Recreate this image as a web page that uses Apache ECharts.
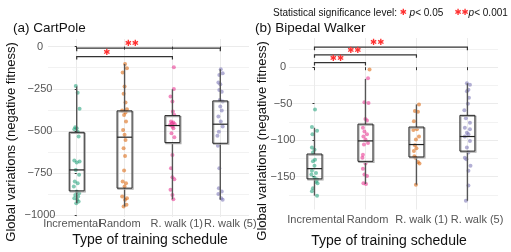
<!DOCTYPE html>
<html>
<head>
<meta charset="utf-8">
<script src="https://cdn.jsdelivr.net/npm/echarts@6/dist/echarts.min.js"></script>
<style>
html,body{margin:0;padding:0;background:#fff;}
#chart{width:511px;height:252px;}
</style>
</head>
<body>
<div id="chart"></div>
<script>
// schedules, same order in both panels
var categories = ['Incremental', 'Random', 'R. walk (1)', 'R. walk (5)'];
var cartTicks = [0, -250, -500, -750, -1000];
var cartMinor = [-125, -375, -625, -875];
var walkerTicks = [0, -50, -100, -150];
var walkerMinor = [25, -25, -75, -125, -175];

// jittered points: [x offset in category units, value]
var cartIncremental = [[-0.02,-233],[0.02,-273],[0.06,-369],[-0.03,-478],[0.0,-484],[-0.05,-490],[0.02,-504],[0.04,-533],
  [-0.05,-675],[0.06,-681],[0.0,-687],[-0.02,-731],[0.05,-760],[-0.04,-800],[0.02,-810],[-0.06,-829],
  [0.0,-859],[0.05,-869],[-0.03,-879],[0.03,-889],[-0.05,-899],[0.01,-908],[0.04,-918],[-0.01,-928]];
var cartRandom = [[0.01,-103],[0.05,-128],[-0.04,-154],[0.0,-237],[-0.02,-280],[0.02,-332],[0.05,-371],[-0.05,-379],
  [0.02,-391],[-0.01,-405],[0.03,-444],[-0.03,-494],[0.0,-523],[0.02,-553],[-0.02,-602],[0.01,-648],[-0.01,-735],
  [-0.04,-800],[0.03,-810],[0.0,-829],[-0.05,-889],[0.05,-899],[0.01,-908],[0.04,-938],[-0.02,-948]];
var cartWalk1 = [[0.03,-122],[0.03,-251],[-0.04,-296],[0.0,-326],[0.01,-385],[0.04,-405],[-0.03,-444],[0.02,-450],
  [-0.01,-455],[0.05,-460],[-0.05,-464],[0.0,-474],[0.02,-484],[-0.02,-513],[0.04,-537],[0.0,-642],[-0.03,-721],
  [0.0,-774],[0.04,-786],[-0.04,-849],[0.0,-879],[0.02,-905]];
var cartWalk5 = [[0.01,-134],[0.05,-158],[-0.02,-168],[-0.04,-213],[0.0,-223],[-0.02,-257],[0.03,-267],[-0.01,-316],
  [0.05,-326],[0.0,-355],[0.03,-379],[-0.04,-415],[0.01,-444],[0.05,-474],[-0.03,-504],[-0.06,-529],[-0.05,-588],
  [-0.02,-721],[-0.03,-839],[0.03,-859],[-0.04,-873],[0.02,-899],[0.05,-908]];

var walkerIncremental = [[0.01,-58],[-0.05,-82],[0.05,-87],[-0.04,-92],[-0.05,-110],[0.0,-113],[-0.03,-117],[0.01,-127],
  [-0.03,-129],[0.0,-135],[-0.05,-142],[0.03,-145],[-0.06,-147],[0.0,-151],[0.05,-154],[0.03,-157],[0.06,-159],
  [-0.03,-166],[-0.05,-170],[0.05,-176]];
var walkerRandom = [[0.05,-15],[-0.02,-48],[0.06,-49],[0.0,-71],[0.03,-73],[-0.05,-83],[-0.02,-88],[0.03,-92],
  [-0.04,-95],[0.0,-99],[0.05,-104],[-0.03,-106],[-0.05,-120],[-0.06,-124],[0.0,-132],[-0.05,-139],[-0.02,-147],
  [0.03,-149],[-0.04,-159],[0.01,-160]];
var walkerRandomOdd = [[0.08,-3]];
var walkerWalk1 = [[0.05,-51],[-0.03,-60],[0.03,-61],[-0.05,-74],[0.01,-85],[-0.06,-86],[0.05,-95],[-0.01,-99],
  [-0.03,-107],[0.0,-111],[-0.05,-115],[-0.04,-122],[-0.02,-124],[0.03,-130],[0.06,-132],[-0.01,-161]];
var walkerWalk5 = [[-0.01,-22],[0.05,-24],[0.02,-31],[-0.01,-33],[0.03,-42],[0.01,-50],[-0.06,-59],[-0.03,-70],
  [0.05,-76],[-0.05,-83],[0.05,-85],[-0.01,-90],[0.02,-92],[-0.05,-95],[0.05,-101],[-0.01,-110],[0.02,-117],
  [-0.05,-124],[-0.02,-126],[0.06,-135],[0.02,-142],[0.02,-162],[-0.03,-183]];

// box stats: [category, min, q1, median, q3, max]
var cartBoxes = [[0,-928,-855,-731,-508,-237],[1,-948,-839,-537,-381,-103],[2,-905,-569,-468,-409,-253],[3,-908,-573,-460,-322,-134]];
var walkerBoxes = [[0,-176,-153,-139,-119,-83],[1,-160,-129,-101,-78,-16],[2,-161,-123,-106,-82,-51],[3,-183,-115,-95,-66,-22]];

// significance brackets: [from, to, value, star position, stars]
var cartSig = [[0,3,-9.5,1.15,'\u2731\u2731'],[0,2,-59,0.63,'\u2731']];
var walkerSig = [[0,3,27.4,1.23,'\u2731\u2731'],[0,2,16.9,0.78,'\u2731\u2731'],[0,1,6.3,0.44,'\u2731\u2731']];

var cartColors = ['#1B9E77','#D95F02','#E7298A','#7570B3'];
var walkerColors = ['#1B9E77','#E7298A','#D95F02','#7570B3'];

// where the category names sit under each panel (in category units, they drift a bit)
var cartLabelAt = [-0.1, 0.9, 2.09, 3.21];
var walkerLabelAt = [0.03, 1.04, 2.1, 3.19];

var FONT = '"Liberation Sans", Arial, sans-serif';
var CART_MIN = -1010, CART_MAX = 45;
var WALK_MIN = -195, WALK_MAX = 40;

function minusFmt(v) {
  v = Math.round(v);
  return v < 0 ? '\u2212' + Math.abs(v) : String(v);
}

function renderBox(params, api) {
  var x = api.value(0);
  var lo = api.coord([x, api.value(1)]);
  var q1 = api.coord([x, api.value(2)]);
  var med = api.coord([x, api.value(3)]);
  var q3 = api.coord([x, api.value(4)]);
  var hi = api.coord([x, api.value(5)]);
  var hw = 7.5;
  return {type: 'group', children: [
    {type: 'line', shape: {x1: hi[0], y1: hi[1], x2: q3[0], y2: q3[1]}, style: {stroke: '#555', lineWidth: 1.4}},
    {type: 'line', shape: {x1: q1[0], y1: q1[1], x2: lo[0], y2: lo[1]}, style: {stroke: '#555', lineWidth: 1.4}},
    {type: 'rect', shape: {x: q3[0] - hw + 1, y: q3[1] + 1, width: hw * 2, height: q1[1] - q3[1]}, style: {fill: null, stroke: '#aaa', lineWidth: 1.2}},
    {type: 'rect', shape: {x: q3[0] - hw, y: q3[1], width: hw * 2, height: q1[1] - q3[1]}, style: {fill: null, stroke: '#222', lineWidth: 1}},
    {type: 'line', shape: {x1: med[0] - hw, y1: med[1], x2: med[0] + hw, y2: med[1]}, style: {stroke: '#222', lineWidth: 1.2}}
  ]};
}

function sigRenderer(list) {
  return function(params, api) {
    var s = list[params.dataIndex];
    var a = api.coord([s[0], s[2]]);
    var b = api.coord([s[1], s[2]]);
    var t = api.coord([s[3], s[2]]);
    return {type: 'group', children: [
      {type: 'polyline', shape: {points: [[a[0], a[1] + 3], [a[0], a[1]], [b[0], b[1]], [b[0], b[1] + 3]]},
        style: {stroke: '#333', lineWidth: 1.2, fill: null}},
      {type: 'text', x: t[0], y: t[1] - 4, style: {text: s[4], fill: '#FF3030', fontSize: 8.5,
        fontFamily: '"DejaVu Sans"', align: 'center', verticalAlign: 'middle'}}
    ]};
  };
}

// category names under the panel, placed through the x scale
function labelRenderer(margin) {
  return function(params, api) {
    var p = api.coord([api.value(0), api.value(1)]);
    return {type: 'text', x: p[0], y: p[1] + margin, style: {text: categories[params.dataIndex], fill: '#555',
      fontSize: 11, fontFamily: FONT, align: 'center', verticalAlign: 'top'}};
  };
}

function xAxisFor(idx, min, max) {
  return {
    type: 'value', gridIndex: idx, min: min, max: max,
    axisLine: {show: false},
    axisTick: {show: true, length: 3, lineStyle: {color: '#333'}, customValues: [0, 1, 2, 3]},
    axisLabel: {show: false, customValues: [0, 1, 2, 3]},
    splitLine: {show: true, lineStyle: {color: '#EBEBEB', width: 1}}
  };
}

function yAxisFor(idx, min, max, ticks, margin) {
  return {
    type: 'value', gridIndex: idx, min: min, max: max,
    axisLine: {show: false},
    axisTick: {show: true, length: 2, lineStyle: {color: '#333'}, customValues: ticks},
    axisLabel: {customValues: ticks, margin: margin, align: 'center', color: '#555', fontSize: 11, fontFamily: FONT,
      showMinLabel: true, showMaxLabel: true, formatter: minusFmt},
    splitLine: {show: true, lineStyle: {color: '#EBEBEB', width: 1}}
  };
}

function minorAxisFor(idx, min, max, ticks) {
  return {
    type: 'value', gridIndex: idx, min: min, max: max, position: 'left',
    axisLine: {show: false},
    axisTick: {show: false, customValues: ticks},
    axisLabel: {show: false, customValues: ticks},
    splitLine: {show: true, lineStyle: {color: '#F2F2F2', width: 1}}
  };
}

function pointSeries(pts, cat, color, xi, yi) {
  return {
    type: 'scatter', xAxisIndex: xi, yAxisIndex: yi, symbolSize: 4, z: 3,
    itemStyle: {color: color, opacity: 0.55},
    data: pts.map(function(p) { return [cat + p[0], p[1]]; })
  };
}

var chart = echarts.init(document.getElementById('chart'), null, {renderer: 'canvas'});

var series = [];
series.push({type: 'custom', xAxisIndex: 0, yAxisIndex: 0, z: 4, renderItem: renderBox, data: cartBoxes, encode: {x: 0, y: [1, 2, 3, 4, 5]}});
series.push({type: 'custom', xAxisIndex: 1, yAxisIndex: 2, z: 4, renderItem: renderBox, data: walkerBoxes, encode: {x: 0, y: [1, 2, 3, 4, 5]}});
[cartIncremental, cartRandom, cartWalk1, cartWalk5].forEach(function(pts, i) {
  series.push(pointSeries(pts, i, cartColors[i], 0, 0));
});
[walkerIncremental, walkerRandom, walkerWalk1, walkerWalk5].forEach(function(pts, i) {
  series.push(pointSeries(pts, i, walkerColors[i], 1, 2));
});
series.push(pointSeries(walkerRandomOdd, 1, walkerColors[2], 1, 2));
series.push({type: 'custom', xAxisIndex: 0, yAxisIndex: 0, z: 5, clip: false, renderItem: sigRenderer(cartSig),
  data: cartSig.map(function(s) { return [s[0], s[2]]; })});
series.push({type: 'custom', xAxisIndex: 1, yAxisIndex: 2, z: 5, clip: false, renderItem: sigRenderer(walkerSig),
  data: walkerSig.map(function(s) { return [s[0], s[2]]; })});
series.push({type: 'custom', xAxisIndex: 0, yAxisIndex: 0, clip: false, silent: true, renderItem: labelRenderer(1),
  data: cartLabelAt.map(function(x) { return [x, CART_MIN]; })});
series.push({type: 'custom', xAxisIndex: 1, yAxisIndex: 2, clip: false, silent: true, renderItem: labelRenderer(5),
  data: walkerLabelAt.map(function(x) { return [x, WALK_MIN]; })});

var option = {
  animation: false,
  backgroundColor: '#fff',
  grid: [
    {left: 48, top: 39, width: 201, height: 178, containLabel: false, outerBoundsMode: 'none'},
    {left: 289, top: 38, width: 209, height: 171.5, containLabel: false, outerBoundsMode: 'none'}
  ],
  xAxis: [xAxisFor(0, -0.6, 3.6), xAxisFor(1, -0.5, 3.6)],
  yAxis: [
    yAxisFor(0, CART_MIN, CART_MAX, cartTicks, 8),
    minorAxisFor(0, CART_MIN, CART_MAX, cartMinor),
    yAxisFor(1, WALK_MIN, WALK_MAX, walkerTicks, 6),
    minorAxisFor(1, WALK_MIN, WALK_MAX, walkerMinor)
  ],
  graphic: [
    {type: 'text', left: 13, top: 21, style: {text: '(a) CartPole', fontSize: 13.5, fontFamily: FONT, fill: '#111'}},
    {type: 'text', left: 255, top: 21, style: {text: '(b) Bipedal Walker', fontSize: 13.5, fontFamily: FONT, fill: '#111'}},
    {type: 'text', x: 150, y: 240, style: {text: 'Type of training schedule', fontSize: 14, fontFamily: FONT, fill: '#111',
      align: 'center', verticalAlign: 'middle'}},
    {type: 'text', x: 389, y: 241, style: {text: 'Type of training schedule', fontSize: 14, fontFamily: FONT, fill: '#111',
      align: 'center', verticalAlign: 'middle'}},
    {type: 'text', x: 11, y: 142, rotation: Math.PI / 2, style: {text: 'Global variations (negative fitness)', fontSize: 13,
      fontFamily: FONT, fill: '#111', align: 'center', verticalAlign: 'middle'}},
    {type: 'text', x: 262, y: 141, rotation: Math.PI / 2, style: {text: 'Global variations (negative fitness)', fontSize: 13,
      fontFamily: FONT, fill: '#111', align: 'center', verticalAlign: 'middle'}},
    {type: 'text', x: 273, y: 13, style: {
      text: 'Statistical significance level: {s|\u2731} {i|p}< 0.05    {s|\u2731\u2731}{i|p}< 0.001',
      fontSize: 10, fontFamily: FONT, fill: '#111', verticalAlign: 'middle',
      rich: {
        s: {fill: '#FF3030', fontSize: 8.5, fontFamily: '"DejaVu Sans"'},
        i: {fontStyle: 'italic', fontSize: 10, fontFamily: FONT, fill: '#111'}
      }}}
  ],
  series: series
};
chart.setOption(option);
</script>
</body>
</html>
